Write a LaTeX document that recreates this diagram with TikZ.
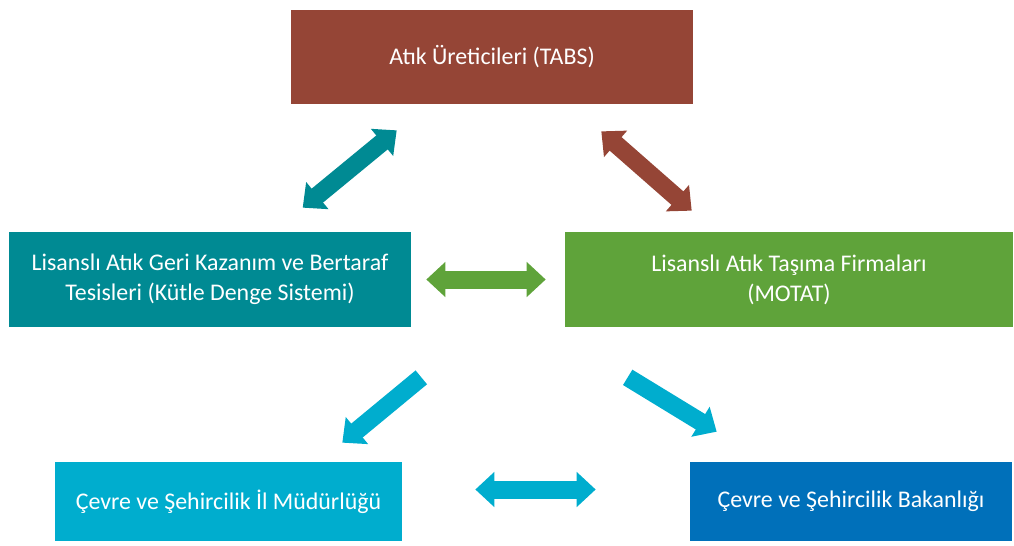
\documentclass[tikz,border=0pt]{standalone}
\usepackage{fontspec}
\setmainfont{Carlito}
\usetikzlibrary{arrows.meta, calc}

\definecolor{kahve}{HTML}{954536}
\definecolor{petrol}{HTML}{008A93}
\definecolor{yesil}{HTML}{5FA33A}
\definecolor{camgobegi}{HTML}{00ADCE}
\definecolor{lacivert}{HTML}{0070BA}

\begin{document}
\begin{tikzpicture}[
  x=0.02cm, y=-0.02cm,
  font=\fontsize{13.6}{17}\selectfont,
  kutu/.style={fill=#1, text=white, align=center, inner sep=2pt,
               minimum height=1.9cm},
  ok/.style={draw=#1, line width=0.36cm,
             -{Triangle[length=0.38cm, width=0.68cm]}},
  ciftok/.style={draw=#1, line width=0.36cm,
             {Triangle[length=0.38cm, width=0.68cm]}-{Triangle[length=0.38cm, width=0.68cm]}}
]
\useasboundingbox (0,0) rectangle (1014,545);

% ---- kutular --------------------------------------------------------
\node[kutu=kahve, minimum width=8.04cm, minimum height=1.88cm] (tabs) at (492,57)
     {Atık Üreticileri (TABS)};
\node[kutu=petrol, minimum width=8.04cm] (tesis) at (210,279.5)
     {Lisanslı Atık Geri Kazanım ve Bertaraf\\Tesisleri (Kütle Denge Sistemi)};
\node[kutu=yesil, minimum width=8.96cm] (motat) at (789,279.5)
     {Lisanslı Atık Taşıma Firmaları\\(MOTAT)};
\node[kutu=camgobegi, minimum width=6.94cm, minimum height=1.58cm] (il) at (228.5,501.5)
     {Çevre ve Şehircilik İl Müdürlüğü};
\node[kutu=lacivert, minimum width=6.44cm, minimum height=1.58cm] (bakanlik) at (851,501.5)
     {Çevre ve Şehircilik Bakanlığı};

% ---- ok uclari --------------------------------------------------------
\coordinate (t1) at ($(tabs.south west)+(106,26)$);
\coordinate (t2) at ($(tesis.north west)+(294,-24)$);
\coordinate (m1) at ($(tabs.south east)+(-92,27)$);
\coordinate (m2) at ($(motat.north west)+(127,-21)$);
\coordinate (y1) at ($(tesis.east)+(15,0)$);
\coordinate (y2) at ($(motat.west)+(-19,0)$);
\coordinate (i1) at ($(tesis.south east)+(10,50)$);
\coordinate (i2) at ($(il.north east)+(-60,-19)$);
\coordinate (b1) at ($(motat.south west)+(63,50)$);
\coordinate (b2) at ($(bakanlik.north west)+(27,-30)$);
\coordinate (c1) at ($(il.east)+(73,-12)$);
\coordinate (c2) at ($(bakanlik.west)+(-94,-12)$);

% ---- oklar ------------------------------------------------------------
\draw[ciftok=petrol] (t2) -- (t1);
\draw[ciftok=kahve] (m1) -- (m2);
\draw[ciftok=yesil] (y1) -- (y2);
\draw[ok=camgobegi] (i1) -- (i2);
\draw[ok=camgobegi] (b1) -- (b2);
\draw[ciftok=camgobegi] (c1) -- (c2);

\end{tikzpicture}
\end{document}
